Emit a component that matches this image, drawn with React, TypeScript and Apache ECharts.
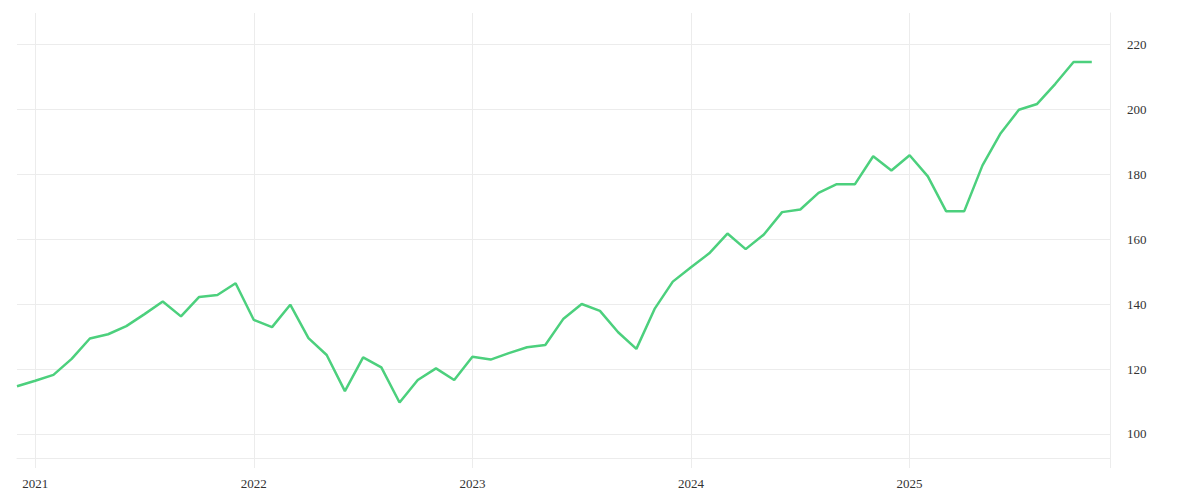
import React, { useEffect, useRef } from "react";
import * as echarts from "echarts";

const months: string[] = [
  "2020-12",
  "2021-01", "2021-02", "2021-03", "2021-04", "2021-05", "2021-06",
  "2021-07", "2021-08", "2021-09", "2021-10", "2021-11", "2021-12",
  "2022-01", "2022-02", "2022-03", "2022-04", "2022-05", "2022-06",
  "2022-07", "2022-08", "2022-09", "2022-10", "2022-11", "2022-12",
  "2023-01", "2023-02", "2023-03", "2023-04", "2023-05", "2023-06",
  "2023-07", "2023-08", "2023-09", "2023-10", "2023-11", "2023-12",
  "2024-01", "2024-02", "2024-03", "2024-04", "2024-05", "2024-06",
  "2024-07", "2024-08", "2024-09", "2024-10", "2024-11", "2024-12",
  "2025-01", "2025-02", "2025-03", "2025-04", "2025-05", "2025-06",
  "2025-07", "2025-08", "2025-09", "2025-10", "2025-11",
  "2025-12",
];

const values: (number | null)[] = [
  114.7,
  116.4, 118.2, 123.1, 129.4, 130.7, 133.2, 136.9, 140.8, 136.2, 142.2, 142.8, 146.4,
  135.1, 132.9, 139.8, 129.5, 124.3, 113.2, 123.6, 120.5, 109.7, 116.6, 120.2, 116.6,
  123.8, 122.9, 124.9, 126.7, 127.4, 135.5, 140.0, 137.9, 131.3, 126.2, 138.5, 146.9,
  151.3, 155.6, 161.7, 156.9, 161.4, 168.3, 169.1, 174.2, 176.9, 176.9, 185.5, 181.1,
  185.8, 179.3, 168.6, 168.6, 182.7, 192.6, 199.8, 201.6, 207.8, 214.5, 214.5,
  null,
];

const yMin = 92.6;
const yMax = 229.6;

const GRID = "#ececec";
const TEXT = "#333333";
const LINE = "#4cd07d";
const FONT = "'Liberation Serif', serif";

export default function App() {
  const ref = useRef<HTMLDivElement>(null);
  useEffect(() => {
    if (!ref.current) return;
    const chart = echarts.init(ref.current, undefined, { renderer: "svg" });
    const isYearStart = (i: number) => months[i].endsWith("-01");
    chart.setOption({
      animation: false,
      backgroundColor: "#ffffff",
      grid: { left: 17, right: 90, top: 13, bottom: 42, containLabel: false },
      xAxis: {
        type: "category",
        data: months,
        boundaryGap: false,
        axisLine: { show: true, lineStyle: { color: GRID, width: 1 } },
        axisTick: {
          show: true,
          length: 10,
          interval: (i: number) => isYearStart(i) || i === months.length - 1,
          lineStyle: { color: GRID, width: 1 },
        },
        splitLine: {
          show: true,
          interval: (i: number) => isYearStart(i) || i === months.length - 1,
          lineStyle: { color: GRID, width: 1 },
        },
        axisLabel: {
          interval: (i: number) => isYearStart(i),
          formatter: (v: string) => v.slice(0, 4),
          color: TEXT,
          fontFamily: FONT,
          fontSize: 13,
          margin: 19,
        },
      },
      yAxis: {
        type: "value",
        position: "right",
        min: yMin,
        max: yMax,
        splitNumber: 7,
        axisLine: { show: true, lineStyle: { color: GRID, width: 1 } },
        axisTick: { show: false },
        splitLine: {
          show: true,
          showMaxLine: false,
          lineStyle: { color: GRID, width: 1 },
        },
        axisLabel: {
          showMinLabel: false,
          showMaxLabel: false,
          color: TEXT,
          fontFamily: FONT,
          fontSize: 13,
          margin: 17,
        },
      },
      series: [
        {
          type: "line",
          data: values,
          showSymbol: false,
          symbol: "none",
          lineStyle: { color: LINE, width: 2.5 },
          itemStyle: { color: LINE },
        },
      ],
    });
    return () => chart.dispose();
  }, []);
  return <div ref={ref} style={{ width: 1200, height: 500, margin: -8 }} />;
}
